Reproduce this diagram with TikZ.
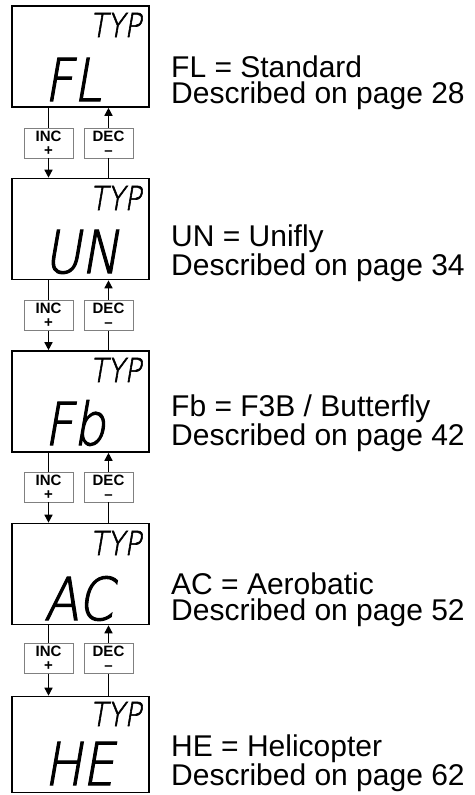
\documentclass[tikz,border=0pt]{standalone}
\usepackage{fontspec}
\setmainfont{Liberation Sans}
\newfontfamily\lcdfont{DejaVu Sans ExtraLight}[FakeSlant=0.2,FakeBold=2]
\usetikzlibrary{arrows.meta}
\definecolor{keygray}{HTML}{808080}
\begin{document}
\begin{tikzpicture}[x=1pt,y=-1pt,
  display/.style={draw=black,line width=1.6pt,minimum width=137pt,minimum height=101pt,inner sep=0pt},
  keybox/.style={draw=keygray,line width=0.9pt,minimum width=49pt,minimum height=30pt,inner sep=0pt,align=center,font=\fontsize{15}{14}\selectfont\bfseries},
  big/.style={anchor=base west,font=\lcdfont\fontsize{59}{59}\selectfont,xscale=0.86,inner sep=0pt},
  typ/.style={anchor=base west,font=\lcdfont\fontsize{33}{33}\selectfont,xscale=0.85,inner sep=0pt},
  lab/.style={anchor=base west,align=left,font=\fontsize{30}{26}\selectfont,inner sep=0pt},
  conn/.style={line width=1.5pt},
  arr/.style={line width=1.5pt,-{Triangle[length=8pt,width=8pt]}}]
\useasboundingbox (0,0) rectangle (474,795);

% displays
\node[display] (d1) at (80.5,56.5) {};
\node[display] (d2) at (80.5,229) {};
\node[display] (d3) at (80.5,401.5) {};
\node[display] (d4) at (80.5,574) {};
\node[display,minimum height=96pt] (d5) at (80.5,744.5) {};

% TYP labels
\node[typ] (t1) at (90,37) {TYP};
\node[typ] (t2) at (90,210) {TYP};
\node[typ] (t3) at (90,382) {TYP};
\node[typ] (t4) at (90,555) {TYP};
\node[typ] (t5) at (90,726) {TYP};

% big display texts
\node[big] (b1) at (44,101) {FL};
\node[big] (b2) at (44,273) {UN};
\node[big] (b3) at (44,445) {Fb};
\node[big] (b4) at (44,620) {AC};
\node[big] (b5) at (44,785) {HE};

% descriptions (anchor = baseline of the second line)
\node[lab] (l1) at (171,103) {FL = Standard\\Described on page 28};
\node[lab] (l2) at (171,275) {UN = Unifly\\Described on page 34};
\node[lab] (l3) at (171,445) {Fb = F3B / Butterfly\\Described on page 42};
\node[lab] (l4) at (171,620) {AC = Aerobatic\\Described on page 52};
\node[lab] (l5) at (171,785) {HE = Helicopter\\Described on page 62};

% key boxes
\foreach \i/\y in {1/143,2/315.5,3/487,4/658.5}{
  \node[keybox] (inc\i) at (48.5,\y) {INC\\+};
  \node[keybox] (dec\i) at (108.5,\y) {DEC\\--};
}

% connectors
\foreach \i/\j in {1/2,2/3,3/4,4/5}{
  \draw[conn] (d\i.south -| inc\i) -- (inc\i.north);
  \draw[arr] (inc\i.south) -- (d\j.north -| inc\i);
  \draw[conn] (d\j.north -| dec\i) -- (dec\i.south);
  \draw[arr] (dec\i.north) -- (d\i.south -| dec\i);
}
\end{tikzpicture}
\end{document}
